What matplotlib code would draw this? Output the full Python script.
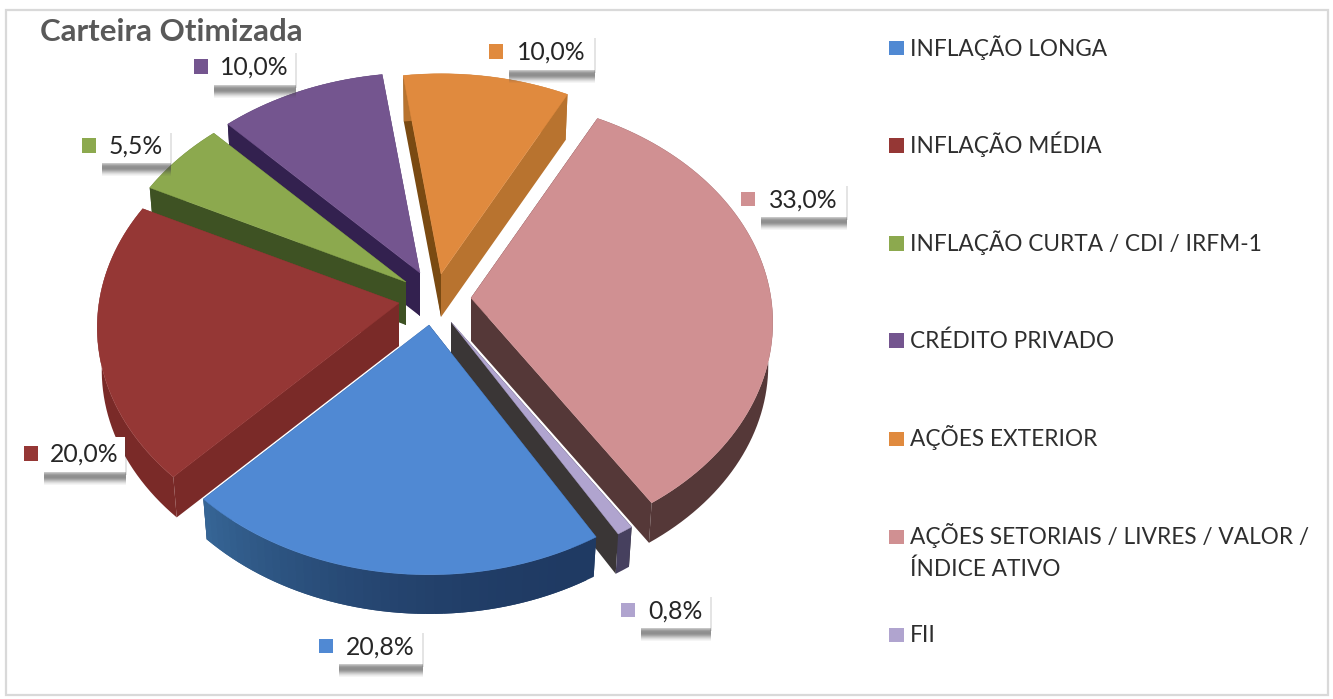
import numpy as np
import matplotlib
matplotlib.use("Agg")
import matplotlib.pyplot as plt
from matplotlib.patches import Polygon, Rectangle
from matplotlib.colors import to_rgb

# ---- data ----
TITLE = "Carteira Otimizada"
categories = ["INFLAÇÃO LONGA", "INFLAÇÃO MÉDIA", "INFLAÇÃO CURTA / CDI / IRFM-1",
              "CRÉDITO PRIVADO", "AÇÕES EXTERIOR",
              "AÇÕES SETORIAIS / LIVRES / VALOR /\nÍNDICE ATIVO", "FII"]
values = [20.8, 20.0, 5.5, 10.0, 10.0, 33.0, 0.8]
value_labels = ["20,8%", "20,0%", "5,5%", "10,0%", "10,0%", "33,0%", "0,8%"]

# ---- styles ----
top_colors = ["#5089D3", "#953735", "#8CA94E", "#74558F", "#E08A3E", "#D09092", "#B0A4CF"]
wall_start = ["#1F3A63", "#7A2A28", "#3E5223", "#33214F", "#B8732F", "#553838", "#46405E"]
wall_end = ["#366595", "#7A2A28", "#3E5223", "#33214F", "#B8732F", "#553838", "#46405E"]
cut_colors = ["#1F3A63", "#7A2A28", "#3E5223", "#33214F", "#B8732F", "#553838", "#3A3636"]
back_strip = ["#1F3A63", "#7A2A28", "#3E5223", "#33214F", "#7A4A12", "#553838", "#3A3636"]
shadow_alpha = [.30, .42, .52, .58, .60, .60, .55, .47, .37, .27, .18, .10, .05]

# ---- layout (pixels) ----
W, H = 1333, 699
slice_tips = [(429, 325), (399, 303), (406, 282), (420, 273), (441, 274), (471, 298), (451, 322)]
RX, RY, PERSP = 300.0, 225.0, 0.11
DEPTH, SHRINK = 43.0, 0.985
START_ANGLE = 149.4
label_boxes = [(338, 630, 422, 664), (43, 437, 125, 472), (101, 130, 170, 163),
               (213, 50, 295, 85), (508, 35, 594, 70), (760, 183, 846, 217), (640, 594, 710, 628)]
legend_y = [48, 145.5, 243.5, 340.5, 439, 537, 635]
SWATCH = 14.5

plt.rcParams["font.family"] = ["Lato", "DejaVu Sans"]
fig = plt.figure(figsize=(W / 100, H / 100), dpi=100, facecolor="white")
ax = fig.add_axes([0, 0, 1, 1])
ax.set_xlim(0, W)
ax.set_ylim(H, 0)
ax.axis("off")

ax.add_patch(Rectangle((5.5, 9.5), 1322, 685, fc="white", ec="#D9D9D9", lw=1.6))


def rim(tip, deg, scale=1.0, drop=0.0):
    t = np.radians(deg)
    u, v = np.sin(t), -np.cos(t)
    s = 1 + PERSP * v
    return (tip[0] + scale * RX * u * s, tip[1] + scale * RY * v * s + drop)


def mix(c1, c2, f):
    a, b = np.array(to_rgb(c1)), np.array(to_rgb(c2))
    return tuple(a + (b - a) * f)


fracs = np.array(values) / sum(values)
edges = START_ANGLE + 360 * np.concatenate([[0], np.cumsum(fracs)])
mids = (edges[:-1] + edges[1:]) / 2
front = np.abs(((mids - 180) + 180) % 360 - 180)
order = np.argsort(-front)

for rank, i in enumerate(order):
    z = 3 + 0.1 * rank
    a0, a1 = edges[i], edges[i + 1]
    tip = slice_tips[i]
    tip_bot = (tip[0], tip[1] + DEPTH)
    angs = np.linspace(a0, a1, max(3, int((a1 - a0) / 1.5)))
    ax.add_patch(Polygon([tip, rim(tip, a1), rim(tip, a1, SHRINK, DEPTH), tip_bot],
                         fc=cut_colors[i], ec="none", zorder=z))
    ax.add_patch(Polygon([tip, rim(tip, a0), rim(tip, a0, SHRINK, DEPTH), tip_bot],
                         fc=back_strip[i], ec="none", zorder=z))
    ax.add_patch(Polygon([rim(tip, a0), tip, tip_bot],
                         fc=back_strip[i], ec="none", zorder=z))
    if wall_start[i] == wall_end[i]:
        outer = [rim(tip, a) for a in angs] + [rim(tip, a, SHRINK, DEPTH) for a in angs[::-1]]
        ax.add_patch(Polygon(outer, fc=wall_start[i], ec="none", zorder=z))
    else:
        n = len(angs)
        for k in range(n - 1):
            e = min(k + 2, n - 1)
            c = mix(wall_start[i], wall_end[i], (k / max(1, n - 2)) ** 2)
            ax.add_patch(Polygon([rim(tip, angs[k]), rim(tip, angs[e]),
                                  rim(tip, angs[e], SHRINK, DEPTH), rim(tip, angs[k], SHRINK, DEPTH)],
                                 fc=c, ec="none", zorder=z))
    pts = [tip] + [rim(tip, a) for a in angs]
    ax.add_patch(Polygon(pts, fc=top_colors[i], ec=top_colors[i], lw=0.3, zorder=z))

# value labels with soft shadow and swatch
for i, (x0, y0, x1, y1) in enumerate(label_boxes):
    for row, al in enumerate(shadow_alpha):
        ax.add_patch(Rectangle((x0 + 1, y1 + row), x1 - x0, 1,
                               fc="#444444", ec="none", alpha=al, zorder=10))
    ax.add_patch(Rectangle((x1, y0 + 3), 2, y1 - y0, fc="#444444", ec="none", alpha=0.14, zorder=10))
    ax.add_patch(Rectangle((x0, y0), x1 - x0, y1 - y0, fc="white", ec="none", zorder=11))
    ax.text((x0 + x1) / 2, (y0 + y1) / 2, value_labels[i], ha="center", va="center",
            fontsize=17.8, color="#262626", zorder=12)
    ax.add_patch(Rectangle((x0 - 19.5, (y0 + y1) / 2 - SWATCH / 2 - 1), SWATCH, SWATCH,
                           fc=top_colors[i], ec="none", zorder=12))

# legend
for i, (name, y) in enumerate(zip(categories, legend_y)):
    ax.add_patch(Rectangle((889, y - SWATCH / 2), SWATCH, SWATCH, fc=top_colors[i], ec="none", zorder=5))
    for j, line in enumerate(name.split("\n")):
        ax.text(910, y + 7.5 + 31.5 * j, line, ha="left", va="baseline", fontsize=16.25, color="#2E2E2E")

ax.text(40, 32, TITLE, ha="left", va="center", fontsize=22.5, fontweight="bold", color="#595959", zorder=13)

fig.savefig("out.png", dpi=100, facecolor="white")
